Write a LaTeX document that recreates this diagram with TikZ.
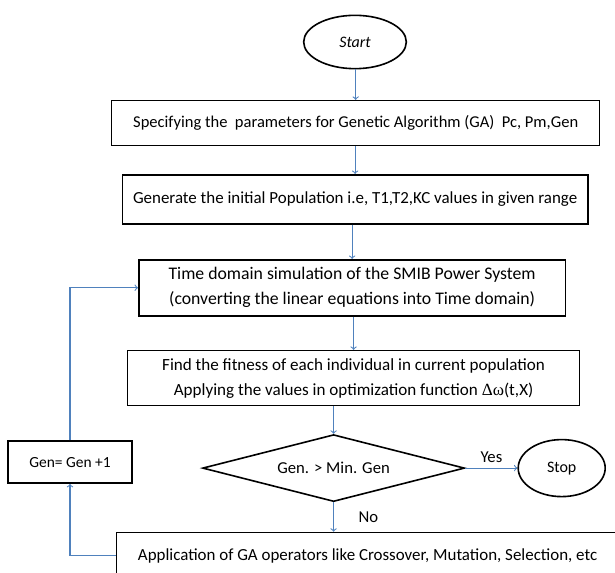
\documentclass[tikz,border=0pt]{standalone}
\usepackage{fontspec}
\setmainfont{Carlito}
\newfontfamily\greekserif{Liberation Serif}
\usepackage{xcolor}
\usetikzlibrary{positioning,shapes.geometric,calc}
\definecolor{flowblue}{RGB}{79,129,189}

\tikzset{
  fs/.style={font=\fontsize{#1}{18.75}\selectfont},
  box/.style={draw, line width=1.2pt, rectangle, align=center, inner sep=0pt},
  term/.style={draw, line width=1.2pt, ellipse, inner sep=0pt},
  decision/.style={draw, line width=1.2pt, diamond, aspect=3.9, inner sep=0pt,
                   minimum width=196.5pt, minimum height=50.25pt},
  flow/.style={draw=flowblue, line width=0.8pt, ->},
}

\begin{document}
\begin{tikzpicture}
\clip (0,0) rectangle (461.25pt,-429.75pt);

\node(Start) [term, fs=12, minimum width=77pt, minimum height=40pt]
      at (266.25pt,-31.5pt)                                       {\itshape Start};
\node(Spec)  [box, fs=12.4, minimum width=366pt, minimum height=33.75pt,
      below = 22.8pt of Start, xshift=0.5pt]
      {Specifying the \ parameters for Genetic Algorithm (GA) \ Pc, Pm,Gen};
\node(Init)  [box, fs=12.7, minimum width=349pt, minimum height=36.75pt,
      below = 20.6pt of Spec, xshift=-0.4pt]
      {Generate the initial Population i.e, T1,T2,KC values in given range};
\node(Sim)   [box, fs=13.3, minimum width=320pt, minimum height=42pt,
      below = 25.8pt of Init, xshift=-2.25pt]
      {Time domain simulation of the SMIB Power System\\(converting the linear equations into Time domain)};
\node(Fit)   [box, fs=12.8, minimum width=339pt, minimum height=41.25pt,
      below = 25pt of Sim, xshift=1.1pt]
      {Find the fitness of each individual in current population\\Applying the values in optimization function {\greekserif Δω}(t,X)};
\node(Dec)   [decision, fs=12.5, below = 20.5pt of Fit, xshift=-15pt] {Gen. > Min. Gen};
\node(Stop)  [term, fs=12, minimum width=65.25pt, minimum height=42.75pt,
      right = 39pt of Dec]                                        {Stop};
\node(Ops)   [box, fs=12.7, minimum width=376.5pt, minimum height=34.5pt,
      below = 22pt of Dec, xshift=25.5pt]
      {Application of GA operators like Crossover, Mutation, Selection, etc};
\node(Gen)   [box, fs=11.6, minimum width=93pt, minimum height=31.5pt,
      left = 51.75pt of Dec, yshift=4.5pt]                        {Gen= Gen +1};

\foreach \a/\b in {Start/Spec,Spec/Init,Init/Sim,Sim/Fit,Fit/Dec} {
\draw[flow] (\b.north |- \a.south)--(\b.north);
}
\draw[flow] (Dec.east)--(Stop.west)
      node[midway, above, fs=12.5] {Yes};
\draw[flow] (Dec.south)--(Dec.south |- Ops.north)
      node[midway, right=15pt, fs=12.5] {No};
\draw[flow] (Ops.west)-|(Gen.south);
\draw[flow] (Gen.north)|-(Sim.west);
\end{tikzpicture}
\end{document}
